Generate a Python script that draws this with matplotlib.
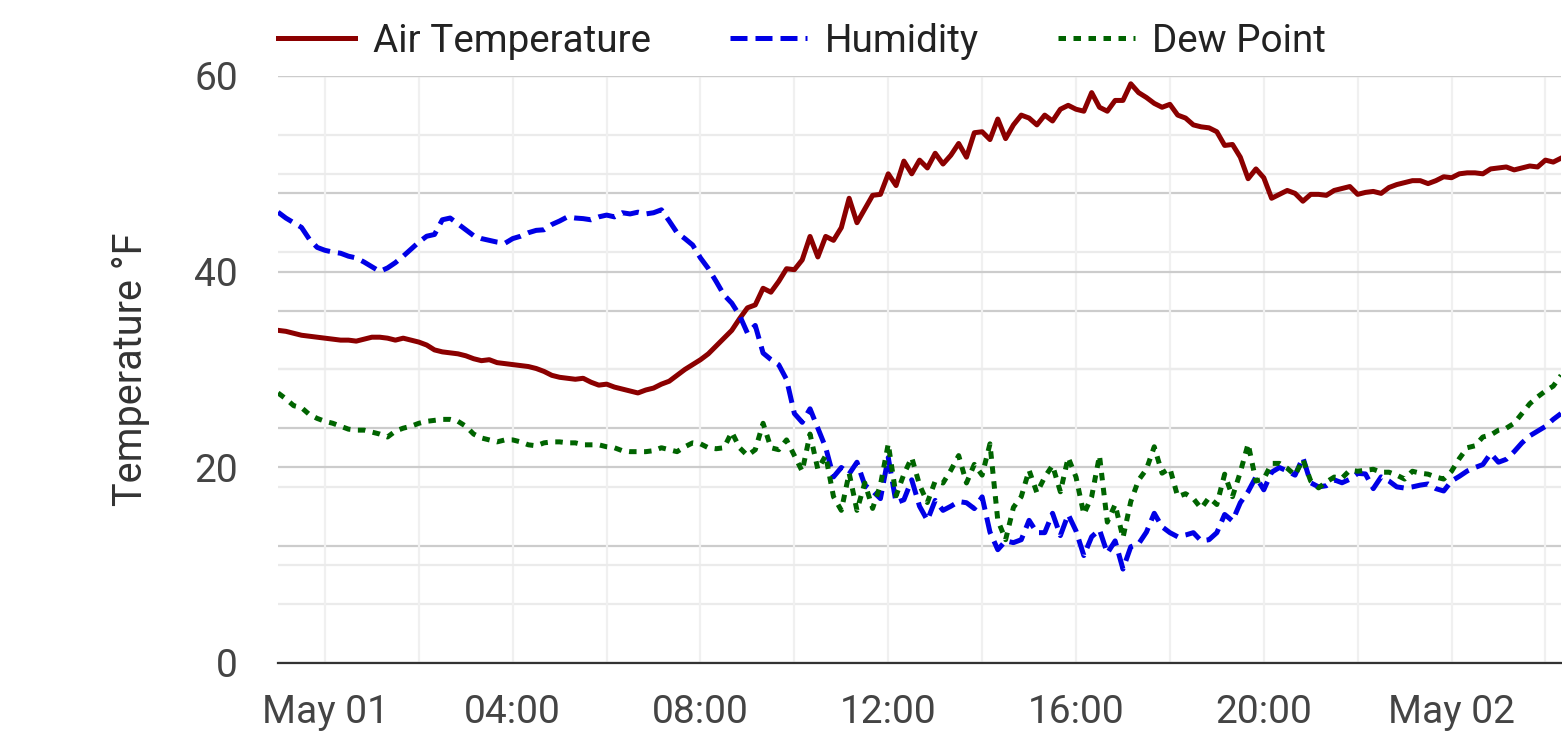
import matplotlib
matplotlib.use('Agg')
import matplotlib.pyplot as plt
import matplotlib.dates as mdates
from matplotlib.ticker import FuncFormatter, MultipleLocator
import pandas as pd

plt.rcParams['font.family'] = ['Roboto', 'DejaVu Sans']

# readings every 10 minutes, starting Apr 30 23:00
START = '2022-04-30 23:00'

air_temp = [
    34.0, 33.9, 33.7, 33.5, 33.4, 33.3,
    33.2, 33.1, 33.0, 33.0, 32.9, 33.1,
    33.3, 33.3, 33.2, 33.0, 33.2, 33.0,
    32.8, 32.5, 32.0, 31.8, 31.7, 31.6,
    31.4, 31.1, 30.9, 31.0, 30.7, 30.6,
    30.5, 30.4, 30.3, 30.1, 29.8, 29.4,
    29.2, 29.1, 29.0, 29.1, 28.7, 28.4,
    28.5, 28.2, 28.0, 27.8, 27.6, 27.9,
    28.1, 28.5, 28.8, 29.4, 30.0, 30.5,
    31.0, 31.6, 32.4, 33.2, 34.0, 35.2,
    36.3, 36.6, 38.3, 37.9, 39.0, 40.3,
    40.2, 41.2, 43.6, 41.5, 43.6, 43.2,
    44.5, 47.5, 45.0, 46.4, 47.8, 47.9,
    50.0, 48.8, 51.3, 50.0, 51.4, 50.6,
    52.1, 51.0, 51.9, 53.1, 51.7, 54.2,
    54.3, 53.5, 55.6, 53.6, 55.0, 56.0,
    55.7, 55.0, 56.0, 55.4, 56.6, 57.0,
    56.6, 56.4, 58.3, 56.8, 56.4, 57.5,
    57.5, 59.2, 58.3, 57.8, 57.2, 56.8,
    57.1, 56.0, 55.7, 55.0, 54.8, 54.7,
    54.3, 52.9, 53.0, 51.7, 49.5, 50.5,
    49.6, 47.5, 47.9, 48.3, 48.0, 47.2,
    47.9, 47.9, 47.8, 48.3, 48.5, 48.7,
    47.9, 48.1, 48.2, 48.0, 48.6, 48.9,
    49.1, 49.3, 49.3, 49.0, 49.3, 49.7,
    49.6, 50.0, 50.1, 50.1, 50.0, 50.5,
    50.6, 50.7, 50.4, 50.6, 50.8, 50.7,
    51.4, 51.2, 51.6,
]

# relative humidity in %, drawn against a hidden 0-100 scale
humidity = [
    76.8, 75.8, 75.0, 74.2, 72.2, 70.8,
    70.3, 70.0, 69.8, 69.3, 69.0, 68.3,
    67.5, 66.7, 67.3, 68.2, 69.3, 70.5,
    71.7, 72.7, 73.0, 75.5, 75.8, 74.8,
    73.8, 72.8, 72.3, 72.0, 71.7, 71.5,
    72.3, 72.7, 73.3, 73.7, 73.8, 74.7,
    75.3, 76.0, 75.8, 75.7, 75.5, 76.0,
    76.3, 76.0, 76.7, 76.5, 76.8, 76.5,
    76.7, 77.2, 75.3, 73.3, 72.3, 71.2,
    69.0, 67.2, 65.0, 62.7, 61.3, 59.2,
    56.2, 57.5, 52.8, 51.7, 50.8, 48.3,
    42.5, 41.0, 43.3, 40.0, 36.7, 31.7,
    33.3, 32.2, 34.2, 30.3, 29.3, 28.0,
    35.0, 27.3, 27.8, 31.2, 26.7, 24.3,
    27.7, 26.0, 26.7, 27.5, 27.3, 26.3,
    28.3, 22.3, 19.3, 20.8, 20.5, 21.0,
    24.3, 22.2, 22.2, 25.5, 21.7, 25.3,
    22.5, 18.3, 21.5, 22.7, 18.7, 20.8,
    16.0, 19.8, 20.3, 22.3, 25.5, 23.2,
    22.2, 21.5, 21.8, 22.2, 20.8, 21.0,
    22.2, 25.3, 24.2, 27.3, 29.2, 31.7,
    29.5, 32.5, 33.3, 32.7, 32.0, 35.0,
    30.7, 30.0, 30.2, 31.2, 30.7, 31.3,
    32.3, 32.2, 29.7, 31.7, 31.0, 30.0,
    29.8, 30.0, 30.3, 30.5, 29.7, 29.3,
    31.0, 31.8, 32.7, 33.3, 33.8, 35.7,
    34.2, 34.7, 36.0, 37.5, 38.7, 39.5,
    40.3, 41.5, 42.5,
]

dew_point = [
    27.6, 27.0, 26.3, 26.1, 25.4, 25.0,
    24.7, 24.5, 24.2, 23.9, 23.8, 23.8,
    23.6, 23.4, 23.1, 23.7, 24.0, 24.2,
    24.5, 24.7, 24.8, 24.9, 24.9, 24.7,
    24.2, 23.4, 23.0, 22.8, 22.6, 22.8,
    22.8, 22.6, 22.3, 22.2, 22.5, 22.6,
    22.6, 22.5, 22.5, 22.3, 22.3, 22.3,
    22.1, 22.0, 21.7, 21.6, 21.6, 21.6,
    21.7, 22.0, 21.8, 21.6, 22.1, 22.5,
    22.4, 22.0, 21.9, 22.0, 23.6, 22.0,
    21.2, 21.8, 24.5, 22.0, 21.8, 22.8,
    21.2, 19.6, 23.4, 19.8, 21.2, 17.0,
    15.6, 19.4, 15.6, 18.4, 15.8, 18.2,
    22.4, 17.1, 19.3, 21.0, 18.2, 16.4,
    18.6, 18.4, 19.7, 21.2, 18.4, 20.3,
    19.2, 22.4, 14.6, 12.6, 15.9, 17.0,
    19.7, 17.4, 19.0, 20.2, 17.5, 21.0,
    19.0, 15.2, 17.0, 21.2, 14.4, 16.2,
    12.8, 16.5, 18.7, 19.8, 22.1, 19.4,
    19.9, 17.0, 17.3, 16.8, 15.8, 16.9,
    16.2, 19.3, 17.0, 19.5, 22.4, 18.6,
    18.8, 20.4, 20.4, 19.9, 19.2, 20.8,
    18.6, 17.9, 18.5, 19.0, 18.9, 19.7,
    19.6, 19.7, 19.8, 19.5, 19.5, 19.2,
    18.8, 19.6, 19.4, 19.3, 19.0, 18.8,
    19.6, 20.9, 22.0, 22.2, 23.1, 23.3,
    23.8, 24.0, 24.5, 25.5, 26.5, 27.2,
    27.8, 28.3, 29.4,
]

times = pd.date_range(START, periods=len(air_temp), freq='10min')

fig = plt.figure(figsize=(15.62, 7.42), dpi=100)
fig.patch.set_facecolor('white')
ax = fig.add_axes([0.178, 0.1065, 0.8214, 0.7911])
ax2 = ax.twinx()
ax.set_zorder(2)
ax2.set_zorder(1)
ax.patch.set_visible(False)

LW = 3.6
# lines (humidity uses the hidden % scale of ax2)
ax.plot(times, air_temp, color='#8b0000', lw=LW, label='Air Temperature')
ax.plot(times, humidity, color='#0000e6', lw=LW, ls=(0, (3.4, 1.6)),
        label='Humidity', transform=ax2.transData)
ax.plot(times, dew_point, color='#006400', lw=LW, ls=(0, (1.5, 1.5)),
        label='Dew Point')

ax.set_xlim(times[0], times[-1])
ax.set_ylim(0, 60)
ax2.set_ylim(0, 100)

ax.set_yticks([0, 20, 40, 60])
ax.yaxis.set_minor_locator(MultipleLocator(10))
ax2.set_yticks([20, 40, 60, 80, 100])
ax2.yaxis.set_minor_locator(MultipleLocator(10))
ax2.tick_params(which='both', right=False, labelright=False, length=0)

ax.xaxis.set_major_locator(mdates.HourLocator(byhour=range(0, 24, 4)))
ax.xaxis.set_minor_locator(mdates.HourLocator(byhour=range(0, 24, 2)))

def fmt_time(x, pos):
    d = mdates.num2date(x)
    return d.strftime('%b %d') if d.hour == 0 else d.strftime('%H:%M')

ax.xaxis.set_major_formatter(FuncFormatter(fmt_time))

# grid
ax.grid(which='major', axis='y', color='#cccccc', lw=1.6)
ax.grid(which='minor', axis='y', color='#ebebeb', lw=1.6)
ax.grid(which='both', axis='x', color='#f0f0f0', lw=1.6)
ax2.grid(which='major', axis='y', color='#cccccc', lw=1.6)
ax2.grid(which='minor', axis='y', color='#ebebeb', lw=1.6)
ax.set_axisbelow(True)

for s in ['left', 'right', 'top']:
    ax.spines[s].set_visible(False)
for s in ax2.spines.values():
    s.set_visible(False)
ax.spines['bottom'].set_color('#333333')
ax.spines['bottom'].set_linewidth(1.6)

ax.tick_params(which='both', length=0)
ax.tick_params(axis='y', pad=29, labelsize=28, labelcolor='#444444')
ax.tick_params(axis='x', pad=22, labelsize=28, labelcolor='#444444')

ax.set_ylabel('Temperature °F', fontsize=28.5, color='#333333')
ax.yaxis.set_label_coords(-0.100, 0.5)

leg = ax.legend(loc='center left', bbox_to_anchor=(0.178, 1 - 41 / 742),
                bbox_transform=fig.transFigure, ncol=3, frameon=False,
                fontsize=27.8, handlelength=2.0, handletextpad=0.45,
                columnspacing=2.05, borderpad=0, borderaxespad=0)
for t in leg.get_texts():
    t.set_color('#222222')

fig.savefig('out.png', dpi=100, facecolor='white')
